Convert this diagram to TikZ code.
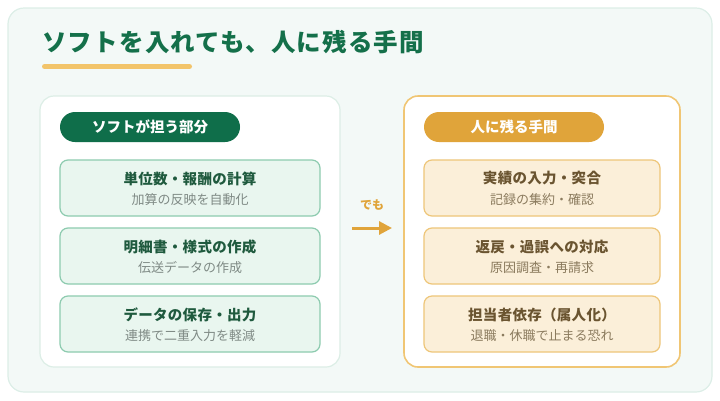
\documentclass[tikz,border=0pt]{standalone}
\usepackage{fontspec}
\setmainfont{Noto Sans CJK JP}
\usetikzlibrary{arrows.meta}

\definecolor{bgfill}{HTML}{F3F9F7}
\definecolor{bgline}{HTML}{DCEEE7}
\definecolor{titlegreen}{HTML}{14704A}
\definecolor{baramber}{HTML}{F2C46A}
\definecolor{softline}{HTML}{DCEEE6}
\definecolor{pillgreen}{HTML}{0F6E4A}
\definecolor{gcardfill}{HTML}{E9F6EF}
\definecolor{gcardline}{HTML}{8DCBAF}
\definecolor{gcardhead}{HTML}{1F5A3E}
\definecolor{gcardsub}{HTML}{7F8A85}
\definecolor{amber}{HTML}{E0A43A}
\definecolor{humanline}{HTML}{F0C674}
\definecolor{acardfill}{HTML}{FBEFD9}
\definecolor{acardline}{HTML}{EEC679}
\definecolor{acardhead}{HTML}{6A5430}
\definecolor{acardsub}{HTML}{8B7B5E}

\tikzset{
  panelbox/.style={draw, fill=white, rounded corners=14pt, line width=1.2pt},
  pillbox/.style={rounded corners=15pt, text=white,
    font=\fontsize{14.5}{16}\selectfont\bfseries},
  cardbox/.style={draw, rounded corners=8pt, line width=1.2pt},
  cardhead/.style={font=\fontsize{14.5}{16}\selectfont\bfseries\addfontfeature{LetterSpace=2}},
  cardsub/.style={font=\fontsize{13}{15}\selectfont},
}

\begin{document}
\begin{tikzpicture}[x=1pt,y=-1pt]
\useasboundingbox (0,0) rectangle (720,400);

% outer card
\draw[fill=bgfill, draw=bgline, line width=1.2pt, rounded corners=16pt]
  (8,8) rectangle (712,392);

% heading and accent bar
\node[anchor=west, text=titlegreen, inner sep=0pt,
  font=\fontsize{24.5}{28}\selectfont\bfseries\addfontfeature{LetterSpace=5}] (title) at (42,42)
  {ソフトを入れても、人に残る手間};
\draw[baramber, line width=5pt, line cap=round] (44.5,66.5) -- (189.5,66.5);

% software side
\draw[panelbox, draw=softline] (40,96) rectangle (340,367);
\fill[pillgreen, rounded corners=15pt] (60,112) rectangle (240,142);
\node[pillbox] (softpill) at (150,127) {ソフトが担う部分};

\foreach \y/\h/\s [count=\i] in {
  160/単位数・報酬の計算/加算の反映を自動化,
  228/明細書・様式の作成/伝送データの作成,
  296/データの保存・出力/連携で二重入力を軽減}{
  \draw[cardbox, fill=gcardfill, draw=gcardline] (60,\y) rectangle (320,\y+56);
  \node[cardhead, text=gcardhead] (sh\i) at (190,\y+18.5) {\h};
  \node[cardsub, text=gcardsub] (ss\i) at (190,\y+39.5) {\s};
}

% transition arrow
\coordinate (arrfrom) at (352,228);
\coordinate (arrto) at (392,228);
\draw[amber, line width=3pt, -{Triangle[length=13pt,width=13pt]}] (arrfrom) -- (arrto);
\node[text=amber, font=\fontsize{12}{14}\selectfont\bfseries] (but) at (372,205) {でも};

% human side
\draw[panelbox, draw=humanline, line width=1.6pt] (404,96) rectangle (680,367);
\fill[amber, rounded corners=15pt] (424,112) rectangle (604,142);
\node[pillbox] (humanpill) at (514,127) {人に残る手間};

\foreach \y/\h/\s [count=\i] in {
  160/実績の入力・突合/記録の集約・確認,
  228/返戻・過誤への対応/原因調査・再請求,
  296/担当者依存（属人化）/退職・休職で止まる恐れ}{
  \draw[cardbox, fill=acardfill, draw=acardline] (424,\y) rectangle (660,\y+56);
  \node[cardhead, text=acardhead] (hh\i) at (542,\y+18.5) {\h};
  \node[cardsub, text=acardsub] (hs\i) at (542,\y+39.5) {\s};
}
\end{tikzpicture}
\end{document}
